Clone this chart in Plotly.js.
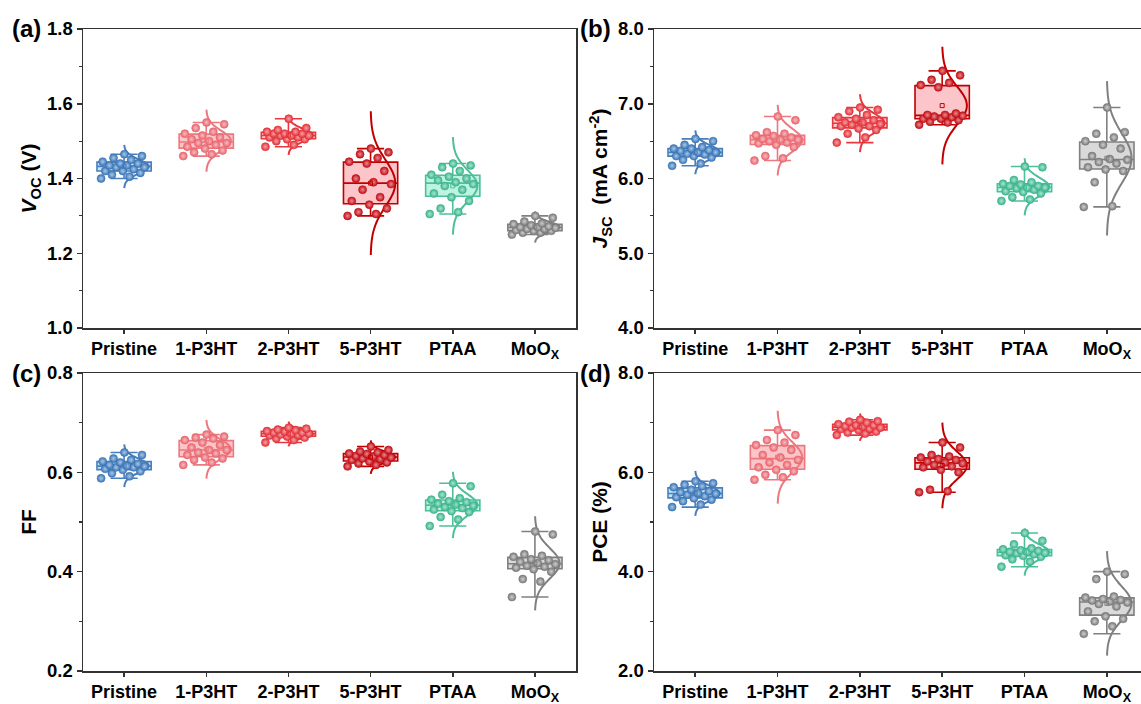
<!DOCTYPE html>
<html>
<head>
<meta charset="utf-8">
<script src="https://cdn.plot.ly/plotly-3.0.1.min.js"></script>
<style>
html,body{margin:0;padding:0;overflow:hidden;background:#fff;}
#chart{width:1149px;height:704px;}
</style>
</head>
<body>
<div id="chart"></div>
<script>
// ---------- data ----------
const categories = ['Pristine', '1-P3HT', '2-P3HT', '5-P3HT', 'PTAA', 'MoO<sub>X</sub>'];

// (a) Voc (V)
const vocPristine = [1.40,1.405,1.41,1.415,1.42,1.42,1.425,1.43,1.43,1.435,1.435,1.44,1.44,1.445,1.45,1.455,1.46,1.465];
const voc1P3HT   = [1.46,1.465,1.47,1.475,1.48,1.485,1.49,1.495,1.495,1.50,1.505,1.51,1.515,1.52,1.525,1.535,1.545,1.55];
const voc2P3HT   = [1.485,1.49,1.50,1.505,1.505,1.51,1.51,1.515,1.515,1.515,1.52,1.52,1.52,1.525,1.525,1.53,1.535,1.56];
const voc5P3HT   = [1.30,1.305,1.31,1.32,1.33,1.34,1.35,1.37,1.385,1.39,1.40,1.42,1.44,1.445,1.455,1.465,1.47,1.48];
const vocPTAA    = [1.305,1.31,1.32,1.34,1.35,1.36,1.37,1.38,1.385,1.39,1.395,1.40,1.405,1.41,1.42,1.43,1.435,1.44];
const vocMoOx    = [1.25,1.255,1.255,1.26,1.26,1.262,1.265,1.265,1.268,1.27,1.27,1.272,1.275,1.278,1.28,1.285,1.295,1.30];

// (b) Jsc (mA cm-2)
const jscPristine = [6.17,6.20,6.25,6.28,6.30,6.30,6.32,6.33,6.35,6.35,6.37,6.38,6.40,6.40,6.42,6.45,6.50,6.53];
const jsc1P3HT   = [6.24,6.27,6.30,6.42,6.45,6.47,6.48,6.50,6.52,6.52,6.53,6.55,6.57,6.58,6.60,6.62,6.78,6.83];
const jsc2P3HT   = [6.48,6.55,6.60,6.65,6.67,6.70,6.70,6.72,6.73,6.75,6.75,6.78,6.80,6.82,6.85,6.90,6.92,6.95];
const jsc5P3HT   = [6.72,6.75,6.76,6.78,6.80,6.80,6.82,6.83,6.84,6.85,6.85,6.87,7.22,7.25,7.28,7.32,7.38,7.44];
const jscPTAA    = [5.70,5.72,5.75,5.80,5.82,5.83,5.85,5.87,5.88,5.88,5.90,5.90,5.92,5.93,5.95,5.98,6.15,6.16];
const jscMoOx    = [5.62,5.63,5.95,6.10,6.12,6.15,6.20,6.22,6.25,6.26,6.30,6.40,6.45,6.50,6.55,6.60,6.62,6.95];

// (c) FF
const ffPristine = [0.588,0.592,0.598,0.602,0.605,0.607,0.610,0.610,0.612,0.613,0.615,0.617,0.620,0.622,0.625,0.628,0.635,0.640];
const ff1P3HT   = [0.615,0.620,0.625,0.628,0.630,0.635,0.638,0.640,0.645,0.645,0.650,0.655,0.660,0.665,0.668,0.670,0.672,0.676];
const ff2P3HT   = [0.660,0.665,0.668,0.670,0.672,0.674,0.675,0.676,0.678,0.678,0.680,0.680,0.682,0.683,0.685,0.686,0.688,0.690];
const ff5P3HT   = [0.612,0.615,0.618,0.620,0.622,0.625,0.627,0.628,0.630,0.632,0.633,0.635,0.637,0.638,0.640,0.642,0.645,0.652];
const ffPTAA    = [0.492,0.505,0.510,0.520,0.522,0.525,0.528,0.530,0.533,0.535,0.537,0.540,0.542,0.545,0.548,0.555,0.572,0.578];
const ffMoOx    = [0.349,0.380,0.385,0.400,0.405,0.408,0.410,0.412,0.415,0.417,0.420,0.423,0.425,0.430,0.432,0.435,0.475,0.481];

// (d) PCE (%)
const pcePristine = [5.30,5.35,5.42,5.45,5.48,5.50,5.52,5.55,5.57,5.58,5.60,5.62,5.65,5.70,5.72,5.75,5.78,5.82];
const pce1P3HT   = [5.85,5.90,5.95,6.02,6.05,6.10,6.15,6.20,6.25,6.30,6.35,6.45,6.50,6.55,6.60,6.65,6.75,6.85];
const pce2P3HT   = [6.75,6.78,6.80,6.82,6.85,6.87,6.88,6.90,6.90,6.92,6.93,6.95,6.95,6.97,7.00,7.02,7.03,7.06];
const pce5P3HT   = [5.60,5.62,5.65,6.00,6.05,6.10,6.12,6.15,6.18,6.20,6.22,6.25,6.27,6.30,6.32,6.35,6.50,6.60];
const pcePTAA    = [4.10,4.20,4.25,4.30,4.32,4.33,4.35,4.37,4.38,4.40,4.40,4.42,4.43,4.45,4.47,4.55,4.62,4.78];
const pceMoOx    = [2.75,2.90,3.00,3.05,3.10,3.20,3.30,3.35,3.38,3.40,3.42,3.43,3.45,3.48,3.50,3.85,3.95,4.00];

// ---------- styles ----------
const edgeColors  = ['#4a7fbd', '#ec7880', '#e8373f', '#c00000', '#4dbf9a', '#808080'];
const fillColors  = ['#bde6f8', '#fbc4c7', '#fac9cb', '#fbc5c9', '#bcf3e1', '#d9d9d9'];
const dotColors   = ['#3c76b6', '#e9666f', '#e3333b', '#c20f17', '#3db48d', '#7a7a7a'];
const hiColors    = ['#a9c8ea', '#f7bcc0', '#f4a3a6', '#e98a8e', '#a8e6d1', '#cfcfcf'];

const panels = [
  {data:[vocPristine,voc1P3HT,voc2P3HT,voc5P3HT,vocPTAA,vocMoOx], xa:'x',  ya:'y'},
  {data:[jscPristine,jsc1P3HT,jsc2P3HT,jsc5P3HT,jscPTAA,jscMoOx], xa:'x2', ya:'y2'},
  {data:[ffPristine,ff1P3HT,ff2P3HT,ff5P3HT,ffPTAA,ffMoOx],         xa:'x3', ya:'y3'},
  {data:[pcePristine,pce1P3HT,pce2P3HT,pce5P3HT,pcePTAA,pceMoOx],   xa:'x4', ya:'y4'}
];

function quantile(sorted, p) {
  const pos = (sorted.length - 1) * p;
  const lo = Math.floor(pos), hi = Math.ceil(pos);
  return sorted[lo] + (sorted[hi] - sorted[lo]) * (pos - lo);
}

const traces = [];
panels.forEach(function(pn) {
  pn.data.forEach(function(vals, i) {
    const pos = i + 1;
    const s = vals.slice().sort(function(a,b){return a-b;});
    const n = s.length;
    const mean = s.reduce(function(a,b){return a+b;},0) / n;
    const sd = Math.sqrt(s.reduce(function(a,b){return a+(b-mean)*(b-mean);},0) / (n-1));
    // box
    traces.push({
      type:'box', xaxis:pn.xa, yaxis:pn.ya, x:[pos],
      q1:[quantile(s,0.25)], median:[quantile(s,0.5)], q3:[quantile(s,0.75)],
      lowerfence:[s[0]], upperfence:[s[n-1]],
      width:0.66, whiskerwidth:0.5,
      fillcolor:fillColors[i], line:{color:edgeColors[i], width:1.6},
      boxpoints:false, showlegend:false, hoverinfo:'skip'
    });
    // normal distribution curve (half violin to the right)
    const cy = [], cx = [];
    const steps = 60;
    for (let k = 0; k <= steps; k++) {
      const z = -3.1 + 6.2 * k / steps;
      cy.push(mean + z * sd);
      cx.push(pos + 0.3 * Math.exp(-0.5 * z * z));
    }
    traces.push({
      type:'scatter', mode:'lines', xaxis:pn.xa, yaxis:pn.ya, x:cx, y:cy,
      line:{color:edgeColors[i], width:2, shape:'spline'}, showlegend:false, hoverinfo:'skip'
    });
    // data points with deterministic horizontal spread
    const px = vals.map(function(v, j){ return pos + (((j * 0.618034) % 1) - 0.5) * 0.56; });
    traces.push({
      type:'scatter', mode:'markers', xaxis:pn.xa, yaxis:pn.ya, x:px, y:vals,
      marker:{size:8, color:dotColors[i], line:{color:dotColors[i], width:0.6},
              gradient:{type:'radial', color:hiColors[i]}},
      showlegend:false, hoverinfo:'y'
    });
    // mean marker
    traces.push({
      type:'scatter', mode:'markers', xaxis:pn.xa, yaxis:pn.ya, x:[pos], y:[mean],
      marker:{size:4, symbol:'square-open', color:edgeColors[i], line:{width:1}},
      showlegend:false, hoverinfo:'skip'
    });
  });
});

// ---------- layout ----------
const W = 1149, H = 704;
const font = {family:'Arial, "Liberation Sans", sans-serif', color:'#000'};
function fx(px){ return px / W; }
function fy(px){ return (H - px) / H; }

function xAxis(domain, anchor) {
  return {
    domain: domain, anchor: anchor, range:[0.5, 6.5],
    tickmode:'array', tickvals:[1,2,3,4,5,6], ticktext:categories,
    ticks:'outside', ticklen:4, tickwidth:1.5, tickcolor:'#333',
    showline:true, mirror:true, linecolor:'#333', linewidth:1.5,
    showgrid:false, zeroline:false,
    tickfont:{family:font.family, size:18, color:'#000', weight:'bold'}
  };
}
function yAxis(domain, anchor, range, dtick, title, standoff) {
  return {
    domain: domain, anchor: anchor, range: range, dtick: dtick, tick0: range[0],
    tickformat:'.1f',
    ticks:'outside', ticklen:5, tickwidth:1.5, tickcolor:'#333',
    minor:{ticks:'outside', ticklen:3, dtick: dtick/2, tickcolor:'#333', tickwidth:1.2},
    showline:true, mirror:true, linecolor:'#333', linewidth:1.5,
    showgrid:false, zeroline:false,
    tickfont:{family:font.family, size:18.5, color:'#000', weight:'bold'},
    title:{text:title, standoff:standoff, font:{family:font.family, size:21, color:'#000', weight:'bold'}}
  };
}

const leftDom  = [fx(83), fx(576)];
const rightDom = [fx(654), fx(1148)];
const topDom   = [fy(328), fy(29)];
const botDom   = [fy(671), fy(373)];

const layout = {
  width: W, height: H,
  margin:{l:0, r:0, t:0, b:0},
  paper_bgcolor:'#fff', plot_bgcolor:'#fff',
  font: font,
  showlegend:false,
  xaxis:  xAxis(leftDom,  'y'),
  yaxis:  yAxis(topDom,   'x',  [1.0, 1.8], 0.2, '<i>V</i><sub>OC</sub> (V)', 4),
  xaxis2: xAxis(rightDom, 'y2'),
  yaxis2: yAxis(topDom,   'x2', [4.0, 8.0], 1.0, '<i>J</i><sub>SC</sub>  (mA cm<sup>-2</sup>)', 4),
  xaxis3: xAxis(leftDom,  'y3'),
  yaxis3: yAxis(botDom,   'x3', [0.2, 0.8], 0.2, 'FF', 4),
  xaxis4: xAxis(rightDom, 'y4'),
  yaxis4: yAxis(botDom,   'x4', [2.0, 8.0], 2.0, 'PCE (%)', 4),
  annotations: [
    {text:'(a)', x:fx(10),  y:fy(29),  xref:'paper', yref:'paper', xanchor:'left', yanchor:'middle', showarrow:false, font:{family:font.family, size:24, color:'#000', weight:'bold'}},
    {text:'(b)', x:fx(578), y:fy(29),  xref:'paper', yref:'paper', xanchor:'left', yanchor:'middle', showarrow:false, font:{family:font.family, size:24, color:'#000', weight:'bold'}},
    {text:'(c)', x:fx(10),  y:fy(373), xref:'paper', yref:'paper', xanchor:'left', yanchor:'middle', showarrow:false, font:{family:font.family, size:24, color:'#000', weight:'bold'}},
    {text:'(d)', x:fx(578), y:fy(373), xref:'paper', yref:'paper', xanchor:'left', yanchor:'middle', showarrow:false, font:{family:font.family, size:24, color:'#000', weight:'bold'}}
  ]
};

Plotly.newPlot('chart', traces, layout, {displayModeBar:false, staticPlot:true});
</script>
</body>
</html>
